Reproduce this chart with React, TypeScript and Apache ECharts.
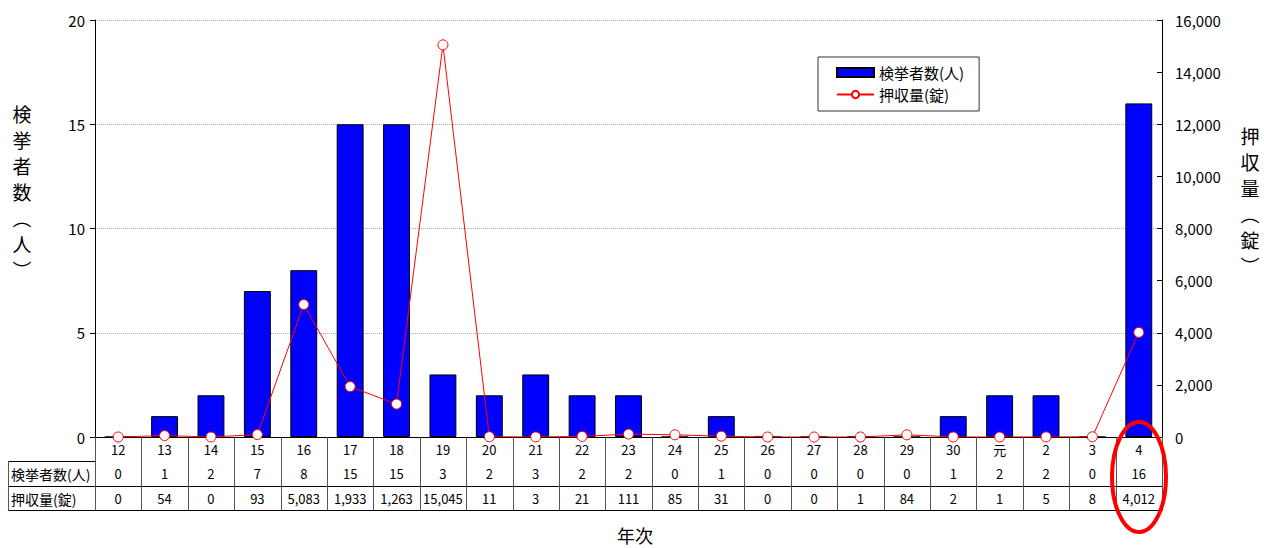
import React, { useEffect, useRef } from "react";
import * as echarts from "echarts";

const categories = ["12", "13", "14", "15", "16", "17", "18", "19", "20", "21", "22", "23", "24", "25", "26", "27", "28", "29", "30", "元", "2", "3", "4"];
const arrestees = [0, 1, 2, 7, 8, 15, 15, 3, 2, 3, 2, 2, 0, 1, 0, 0, 0, 0, 1, 2, 2, 0, 16];
const seized = [0, 54, 0, 93, 5083, 1933, 1263, 15045, 11, 3, 21, 111, 85, 31, 0, 0, 1, 84, 2, 1, 5, 8, 4012];
const leftTicks = { min: 0, max: 20, interval: 5 };
const rightTicks = { min: 0, max: 16000, interval: 2000 };
const seriesNames = ["検挙者数(人)", "押収量(錠)"];
const rowHeaders = ["検挙者数(人)", "押収量(錠)"];
const leftName = ["検", "挙", "者", "数", "︵", "人", "︶"];
const rightName = ["押", "収", "量", "︵", "錠", "︶"];
const xName = "年次";

const FONT = '"Noto Sans CJK JP", "Noto Sans", sans-serif';
const fmt = (v: number) => v.toLocaleString("en-US");

export default function App() {
  const ref = useRef<HTMLDivElement>(null);
  useEffect(() => {
    if (!ref.current) return;
    const chart = echarts.init(ref.current, undefined, { renderer: "svg" });
    const GL = 95, GR = 1162, GT = 20, GB = 437;
    const TABLE_BOTTOM = 510.5;
    const rowAxis = (data: string[], offset: number, showLabel: boolean) => ({
      type: "category",
      data,
      position: "bottom",
      offset,
      boundaryGap: true,
      axisLine: { show: true, lineStyle: { color: "#000", width: 1 } },
      axisTick: { show: false },
      axisLabel: { show: showLabel, interval: 0, margin: 6, fontSize: 13, color: "#000", fontFamily: FONT },
      splitLine: { show: false },
    });
    const nameChars = (chars: string[], x: number, y0: number, step: number, key: string) =>
      chars.map((c, i) => ({
        id: `${key}${i}`,
        type: "text",
        x,
        y: y0 + i * step,
        style: { text: c, font: `19px ${FONT}`, fill: "#000", align: "center", verticalAlign: "middle" },
      }));
    const option: any = {
      animation: false,
      textStyle: { fontFamily: FONT },
      grid: { left: GL, right: 1264 - GR, top: GT, bottom: 548 - GB, containLabel: false },
      legend: {
        orient: "vertical",
        left: 818,
        top: 57,
        padding: [8, 15, 9, 18],
        itemGap: 7,
        itemWidth: 37,
        itemHeight: 9,
        borderColor: "#333",
        borderWidth: 1,
        backgroundColor: "#fff",
        textStyle: { fontSize: 15, color: "#000", fontFamily: FONT },
        data: [{ name: seriesNames[0], icon: "rect" }, { name: seriesNames[1] }],
      },
      xAxis: [
        rowAxis(categories, 0, true),
        rowAxis(arrestees.map(fmt), 24, true),
        rowAxis(seized.map(fmt), 49, true),
        rowAxis(categories.map(() => ""), 73, false),
      ],
      yAxis: [
        {
          type: "value",
          ...leftTicks,
          axisLine: { show: true, lineStyle: { color: "#000" } },
          axisTick: { show: true, inside: false, length: 5, lineStyle: { color: "#000" } },
          axisLabel: { margin: 10, fontSize: 15, color: "#000", fontFamily: FONT },
          splitLine: { show: true, lineStyle: { color: "#aaa", type: "dotted", width: 1 } },
        },
        {
          type: "value",
          ...rightTicks,
          position: "right",
          axisLine: { show: true, lineStyle: { color: "#000" } },
          axisTick: { show: true, inside: true, length: 5, lineStyle: { color: "#000" } },
          axisLabel: { margin: 13, fontSize: 15, color: "#000", fontFamily: FONT, formatter: (v: number) => fmt(v) },
          splitLine: { show: false },
        },
      ],
      series: [
        {
          name: seriesNames[0],
          type: "bar",
          xAxisIndex: 0,
          yAxisIndex: 0,
          data: arrestees,
          barWidth: "58%",
          itemStyle: { color: "#0000ff", borderColor: "#000", borderWidth: 1 },
          z: 2,
        },
        {
          name: seriesNames[1],
          type: "line",
          xAxisIndex: 0,
          yAxisIndex: 1,
          data: seized,
          symbol: "circle",
          symbolSize: 10,
          lineStyle: { color: "#ff0000", width: 1 },
          itemStyle: { color: "#fff", borderColor: "#ff0000", borderWidth: 1 },
          z: 3,
        },
      ],
      graphic: [
        { id: "h1", type: "line", shape: { x1: 8, y1: 461.5, x2: GL, y2: 461.5 }, style: { stroke: "#000", lineWidth: 1 } },
        { id: "h2", type: "line", shape: { x1: 8, y1: 486.5, x2: GL, y2: 486.5 }, style: { stroke: "#000", lineWidth: 1 } },
        { id: "h3", type: "line", shape: { x1: 8, y1: TABLE_BOTTOM, x2: GL, y2: TABLE_BOTTOM }, style: { stroke: "#000", lineWidth: 1 } },
        { id: "vl", type: "line", shape: { x1: 8.5, y1: 461, x2: 8.5, y2: 511 }, style: { stroke: "#555", lineWidth: 1 } },
        { id: "rh0", type: "text", x: 11, y: 474, style: { text: rowHeaders[0], font: `14px ${FONT}`, fill: "#000", verticalAlign: "middle", align: "left" } },
        { id: "rh1", type: "text", x: 11, y: 498.5, style: { text: rowHeaders[1], font: `14px ${FONT}`, fill: "#000", verticalAlign: "middle", align: "left" } },
        ...nameChars(leftName, 22, 113, 26, "ln"),
        ...nameChars(rightName, 1250, 135, 26, "rn"),
        { id: "xn", type: "text", x: 635, y: 535, style: { text: xName, font: `18px ${FONT}`, fill: "#000", align: "center", verticalAlign: "middle" } },
        { id: "ell", type: "ellipse", shape: { cx: 1139, cy: 477, rx: 27, ry: 55 }, style: { fill: "none", stroke: "#ff0000", lineWidth: 4 }, z: 100 },
      ],
    };
    chart.setOption(option);

    // table column dividers, placed through the category axis scale
    const c0 = chart.convertToPixel({ xAxisIndex: 0 }, categories[0]) as number;
    const c1 = chart.convertToPixel({ xAxisIndex: 0 }, categories[1]) as number;
    const band = c1 - c0;
    const dividers: any[] = [];
    for (let i = 0; i <= categories.length; i++) {
      const x = Math.round(c0 - band / 2 + i * band);
      dividers.push({
        id: `div${i}`,
        type: "rect",
        z: 60,
        shape: { x, y: GB, width: 1, height: TABLE_BOTTOM - GB },
        style: { fill: "#555" },
      });
    }
    chart.setOption({ graphic: dividers });
    return () => chart.dispose();
  }, []);
  return <div ref={ref} style={{ position: "fixed", left: 0, top: 0, width: 1264, height: 548, background: "#fff" }} />;
}
